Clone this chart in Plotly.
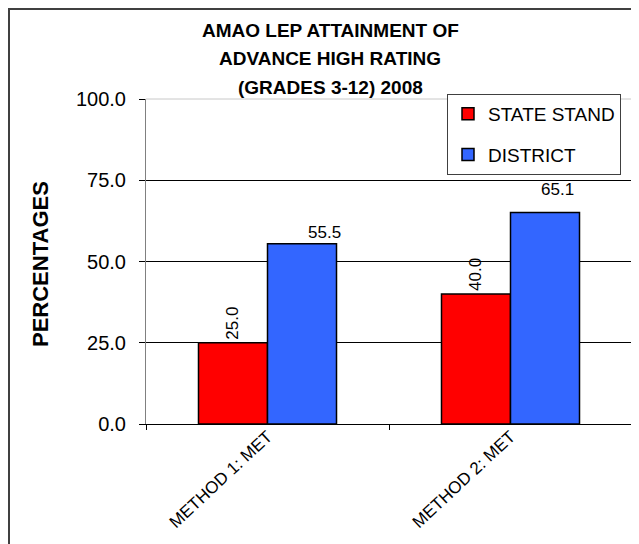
import plotly.graph_objects as go

# ---- data ----
categories = ["METHOD 1: MET", "METHOD 2: MET"]
series_names = ["STATE STAND", "DISTRICT"]
state_stand = [25.0, 40.0]
district = [55.5, 65.1]
y_ticks = [0, 25, 50, 75, 100]
y_tick_labels = ["0.0", "25.0", "50.0", "75.0", "100.0"]
title_lines = ["AMAO LEP ATTAINMENT OF", "ADVANCE HIGH RATING", "(GRADES 3-12) 2008"]
y_title = "PERCENTAGES"

# ---- style ----
FONT = "Liberation Sans, Arial, sans-serif"
RED = "#FF0000"
BLUE = "#3366FF"
OFF = 8  # page body margin of the browser
W, H = 639, 544
L, R, T, B = 138, 15, 91, 128
PW, PH = W - L - R, H - T - B

def px_x(sx):
    return (sx - OFF - L) / PW

def px_y(sy):
    return (H - B - (sy - OFF)) / PH

fig = go.Figure()
fig.add_trace(go.Bar(
    x=categories, y=state_stand, name=series_names[0], legendgroup="a",
    marker=dict(color=RED, line=dict(color="#000000", width=1.5)),
    text=[f"{v:.1f}" for v in state_stand], textposition="outside",
    textangle=-90, textfont=dict(family=FONT, size=17, color="#000"),
    cliponaxis=False,
))
fig.add_trace(go.Bar(
    x=categories, y=district, name=series_names[1], legendgroup="b",
    marker=dict(color=BLUE, line=dict(color="#000000", width=1.5)),
))

# district labels (placed slightly right of the bars, as in the original)
label_xshift = [57, 47]
label_yshift = [0, 11]
for c, v, dx, dy in zip(categories, district, label_xshift, label_yshift):
    fig.add_annotation(x=c, y=v, text=f"{v:.1f}", showarrow=False,
                       xshift=dx, yshift=dy, yanchor="bottom",
                       font=dict(family=FONT, size=17, color="#000"))

# title lines
title_y_px = [30, 58, 87]
for line, ty in zip(title_lines, title_y_px):
    fig.add_annotation(xref="paper", yref="paper", x=px_x(330), y=px_y(ty),
                       text=f"<b>{line}</b>", showarrow=False,
                       xanchor="center", yanchor="middle",
                       font=dict(family=FONT, size=19, color="#000"))

# y-axis title
fig.add_annotation(xref="paper", yref="paper", x=px_x(40), y=px_y(264),
                   text=f"<b>{y_title}</b>", showarrow=False, textangle=-90,
                   xanchor="center", yanchor="middle",
                   font=dict(family=FONT, size=22, color="#000"))

# outer chart border
fig.add_shape(type="rect", xref="paper", yref="paper",
              x0=px_x(9), x1=px_x(660), y0=px_y(9), y1=px_y(580),
              line=dict(color="#404040", width=2), layer="below")
# light top frame line (at 100)
fig.add_shape(type="line", xref="paper", yref="paper",
              x0=0, x1=1, y0=1, y1=1,
              line=dict(color="#C8C8C8", width=1), layer="above")

fig.update_layout(
    width=W, height=H,
    margin=dict(l=L, r=R, t=T, b=B, autoexpand=False),
    paper_bgcolor="white", plot_bgcolor="white",
    font=dict(family=FONT, color="#000"),
    barmode="group", bargap=0.432, bargroupgap=0,
    showlegend=True,
    legend=dict(x=px_x(447), y=px_y(94), xanchor="left", yanchor="top",
                bgcolor="white", bordercolor="#404040", borderwidth=1,
                font=dict(family=FONT, size=19, color="#000"),
                tracegroupgap=13, traceorder="grouped"),
)
fig.update_xaxes(
    type="category", showline=True, linecolor="#000", linewidth=1,
    ticks="outside", tickson="boundaries", ticklen=5, tickcolor="#000",
    tickangle=-43, ticklabelstandoff=-5,
    tickfont=dict(family=FONT, size=17, color="#000"),
    showgrid=False, zeroline=False, automargin=False,
)
fig.update_yaxes(
    range=[0, 100], tickvals=y_ticks, ticktext=y_tick_labels,
    showline=True, linecolor="#808080", linewidth=1,
    ticks="outside", ticklen=6, tickcolor="#000", ticklabelstandoff=9,
    tickfont=dict(family=FONT, size=20, color="#000"),
    showgrid=True, gridcolor="#000", gridwidth=1, zeroline=False,
    automargin=False,
)

fig.write_html("out.html")
